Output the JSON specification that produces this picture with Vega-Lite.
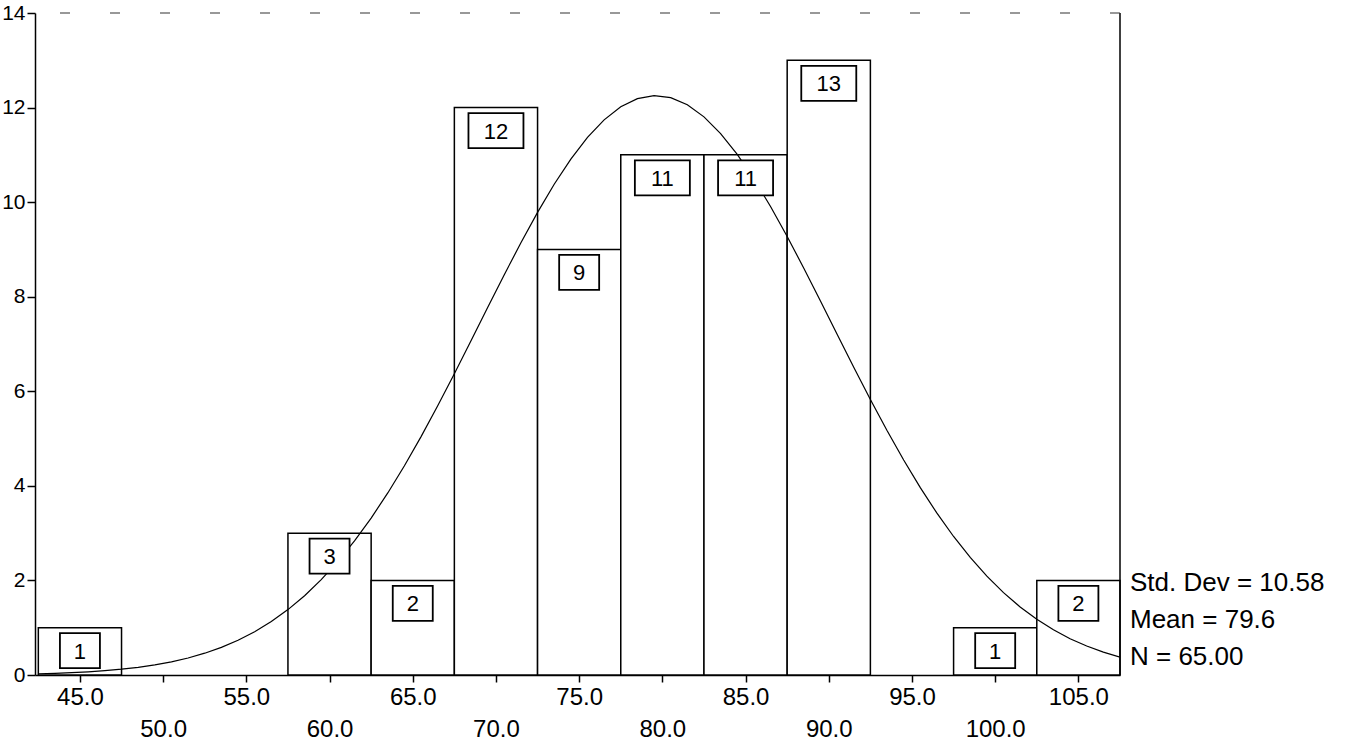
{
  "$schema": "https://vega.github.io/schema/vega-lite/v6.json",
  "autosize": {"type": "none"},
  "padding": {"left": 35, "top": 13, "right": 226, "bottom": 74},
  "width": 1085,
  "height": 662,
  "background": "white",
  "config": {
    "view": {"stroke": null},
    "font": "Liberation Sans",
    "axis": {"grid": false, "domainColor": "black", "tickColor": "black", "labelColor": "black", "domainWidth": 1.5, "tickWidth": 1.5, "titleFontSize": 0}
  },
  "datasets": {
    "bins": [
      {"lo": 42.5, "mid": 45, "hi": 47.5, "count": 1},
      {"lo": 57.5, "mid": 60, "hi": 62.5, "count": 3},
      {"lo": 62.5, "mid": 65, "hi": 67.5, "count": 2},
      {"lo": 67.5, "mid": 70, "hi": 72.5, "count": 12},
      {"lo": 72.5, "mid": 75, "hi": 77.5, "count": 9},
      {"lo": 77.5, "mid": 80, "hi": 82.5, "count": 11},
      {"lo": 82.5, "mid": 85, "hi": 87.5, "count": 11},
      {"lo": 87.5, "mid": 90, "hi": 92.5, "count": 13},
      {"lo": 97.5, "mid": 100, "hi": 102.5, "count": 1},
      {"lo": 102.5, "mid": 105, "hi": 107.5, "count": 2}
    ],
    "curve": [
      {"x": 42.5, "y": 0.0262}, {"x": 43.5, "y": 0.0364}, {"x": 44.5, "y": 0.0500}, {"x": 45.5, "y": 0.0681},
      {"x": 46.5, "y": 0.0918}, {"x": 47.5, "y": 0.1229}, {"x": 48.5, "y": 0.1630}, {"x": 49.5, "y": 0.2142},
      {"x": 50.5, "y": 0.2791}, {"x": 51.5, "y": 0.3603}, {"x": 52.5, "y": 0.4611}, {"x": 53.5, "y": 0.5846},
      {"x": 54.5, "y": 0.7347}, {"x": 55.5, "y": 0.9152}, {"x": 56.5, "y": 1.1300}, {"x": 57.5, "y": 1.3830},
      {"x": 58.5, "y": 1.6774}, {"x": 59.5, "y": 2.0165}, {"x": 60.5, "y": 2.4024}, {"x": 61.5, "y": 2.8364},
      {"x": 62.5, "y": 3.3193}, {"x": 63.5, "y": 3.8499}, {"x": 64.5, "y": 4.4256}, {"x": 65.5, "y": 5.0418},
      {"x": 66.5, "y": 5.6934}, {"x": 67.5, "y": 6.3721}, {"x": 68.5, "y": 7.0675}, {"x": 69.5, "y": 7.7697},
      {"x": 70.5, "y": 8.4655}, {"x": 71.5, "y": 9.1410}, {"x": 72.5, "y": 9.7835}, {"x": 73.5, "y": 10.3783},
      {"x": 74.5, "y": 10.9104}, {"x": 75.5, "y": 11.3684}, {"x": 76.5, "y": 11.7399}, {"x": 77.5, "y": 12.0158},
      {"x": 78.5, "y": 12.1888}, {"x": 79.5, "y": 12.2544}, {"x": 80.5, "y": 12.2106}, {"x": 81.5, "y": 12.0589},
      {"x": 82.5, "y": 11.8031}, {"x": 83.5, "y": 11.4499}, {"x": 84.5, "y": 11.0086}, {"x": 85.5, "y": 10.4901},
      {"x": 86.5, "y": 9.9071}, {"x": 87.5, "y": 9.2733}, {"x": 88.5, "y": 8.6029}, {"x": 89.5, "y": 7.9099},
      {"x": 90.5, "y": 7.2081}, {"x": 91.5, "y": 6.5100}, {"x": 92.5, "y": 5.8276}, {"x": 93.5, "y": 5.1700},
      {"x": 94.5, "y": 4.5461}, {"x": 95.5, "y": 3.9617}, {"x": 96.5, "y": 3.4220}, {"x": 97.5, "y": 2.9292},
      {"x": 98.5, "y": 2.4852}, {"x": 99.5, "y": 2.0898}, {"x": 100.5, "y": 1.7413}, {"x": 101.5, "y": 1.4384},
      {"x": 102.5, "y": 1.1776}, {"x": 103.5, "y": 0.9555}, {"x": 104.5, "y": 0.7681}, {"x": 105.5, "y": 0.6122},
      {"x": 106.5, "y": 0.4838}, {"x": 107.5, "y": 0.3788}
    ]
  },
  "layer": [
    {
      "data": {"name": "bins"},
      "mark": {"type": "rect", "fill": "white", "stroke": "black", "strokeWidth": 1.5},
      "encoding": {
        "x": {
          "field": "lo", "type": "quantitative",
          "scale": {"domain": [42.3, 107.5], "nice": false, "zero": false},
          "axis": {
            "title": null,
            "values": [45, 50, 55, 60, 65, 70, 75, 80, 85, 90, 95, 100, 105],
            "labelExpr": "datum.value % 10 == 0 ? ['', format(datum.value, '.1f')] : format(datum.value, '.1f')",
            "labelFontSize": 24,
            "labelLineHeight": 32,
            "labelBaseline": "top",
            "labelPadding": 3,
            "tickSize": 7,
            "labelFlush": false,
            "labelOverlap": false
          }
        },
        "x2": {"field": "hi"},
        "y": {
          "field": "count", "type": "quantitative",
          "scale": {"domain": [0, 14], "nice": false},
          "axis": {
            "title": null,
            "values": [0, 2, 4, 6, 8, 10, 12, 14],
            "labelFontSize": 21,
            "tickSize": 8,
            "labelPadding": 2,
            "labelFlush": false,
            "labelOverlap": false
          }
        },
        "y2": {"datum": 0}
      }
    },
    {
      "data": {"name": "curve"},
      "mark": {"type": "line", "color": "black", "strokeWidth": 1.2, "clip": true},
      "encoding": {
        "x": {"field": "x", "type": "quantitative"},
        "y": {"field": "y", "type": "quantitative"}
      }
    },
    {
      "data": {"name": "bins"},
      "transform": [{"filter": "datum.count < 10"}],
      "mark": {"type": "point", "shape": "M-1,-0.875L1,-0.875L1,0.875L-1,0.875Z", "size": 1600, "filled": false, "fill": "white", "fillOpacity": 1, "stroke": "black", "strokeWidth": 1.8, "opacity": 1, "yOffset": 23},
      "encoding": {
        "x": {"field": "mid", "type": "quantitative"},
        "y": {"field": "count", "type": "quantitative"}
      }
    },
    {
      "data": {"name": "bins"},
      "transform": [{"filter": "datum.count >= 10"}],
      "mark": {"type": "point", "shape": "M-1,-0.636L1,-0.636L1,0.636L-1,0.636Z", "size": 3025, "filled": false, "fill": "white", "fillOpacity": 1, "stroke": "black", "strokeWidth": 1.8, "opacity": 1, "yOffset": 23},
      "encoding": {
        "x": {"field": "mid", "type": "quantitative"},
        "y": {"field": "count", "type": "quantitative"}
      }
    },
    {
      "data": {"name": "bins"},
      "mark": {"type": "text", "fontSize": 22, "color": "black", "baseline": "middle", "align": "center", "dy": 24},
      "encoding": {
        "x": {"field": "mid", "type": "quantitative"},
        "y": {"field": "count", "type": "quantitative"},
        "text": {"field": "count", "type": "quantitative"}
      }
    },
    {
      "data": {"values": [{}]},
      "mark": {"type": "rule", "color": "black", "strokeWidth": 1.5},
      "encoding": {"x": {"datum": 107.5}}
    },
    {
      "data": {"values": [{}]},
      "mark": {"type": "rule", "color": "#333", "strokeWidth": 1.2, "strokeDash": [10, 40]},
      "encoding": {"y": {"datum": 14}}
    },
    {
      "data": {"values": [{}]},
      "mark": {"type": "text", "text": ["Std. Dev = 10.58", "Mean = 79.6", "N = 65.00"], "fontSize": 26, "lineHeight": 37, "align": "left", "baseline": "middle", "dx": 10, "color": "black"},
      "encoding": {"x": {"datum": 107.5}, "y": {"datum": 1.94}}
    }
  ]
}
